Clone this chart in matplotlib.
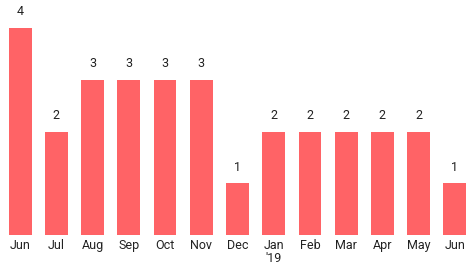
import matplotlib
matplotlib.use("Agg")
import matplotlib.pyplot as plt

categories = ["Jun", "Jul", "Aug", "Sep", "Oct", "Nov", "Dec", "Jan\n'19", "Feb", "Mar", "Apr", "May", "Jun"]
values = [4, 2, 3, 3, 3, 3, 1, 2, 2, 2, 2, 2, 1]

plt.rcParams['font.family'] = ['Roboto', 'DejaVu Sans']

fig = plt.figure(figsize=(4.76, 2.73), dpi=100)
ax = fig.add_axes([2/476, (273-235)/273, 471/476, 235/273])
x = list(range(len(values)))
bars = ax.bar(x, values, width=0.63, color="#FF6366")
for xi, v in zip(x, values):
    ax.annotate(str(v), (xi, v), xytext=(0, 7), textcoords="offset points",
                ha="center", va="bottom", fontsize=9, color="#222222")
ax.set_xlim(-0.5, len(values) - 0.5)
ax.set_ylim(0, 235/51.75)
ax.set_xticks(x)
ax.set_xticklabels(categories, fontsize=9, color="#222222", linespacing=1.0)
ax.tick_params(axis="x", length=0, pad=3)
ax.set_yticks([])
for s in ax.spines.values():
    s.set_visible(False)
fig.savefig("out.png", dpi=100)
